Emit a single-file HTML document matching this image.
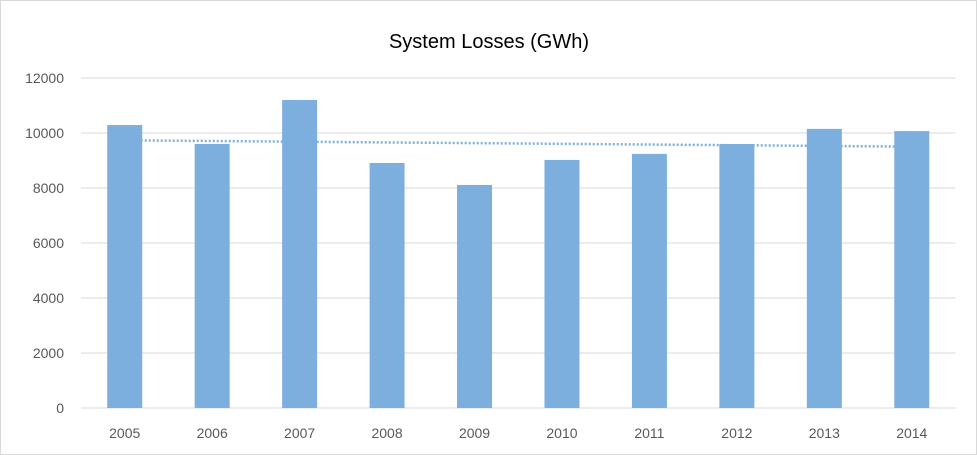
<!DOCTYPE html>
<html><head><meta charset="utf-8"><style>
html,body{margin:0;padding:0;background:#fff;}
#wrap{position:relative;width:977px;height:455px;box-sizing:border-box;border:1px solid #d9d9d9;font-family:"Liberation Sans",sans-serif;overflow:hidden}
</style></head><body>
<div id="wrap">
<svg id="chart" width="977" height="455"></svg>
</div>
<script>
const categories=["2005","2006","2007","2008","2009","2010","2011","2012","2013","2014"];
const values=[10290,9600,11200,8910,8110,9020,9240,9600,10150,10070];
const yTicks=[0,2000,4000,6000,8000,10000,12000];
const NS="http://www.w3.org/2000/svg";
const svg=document.getElementById('chart');
const left=80,right=954.5,y0=407,yTop=77,yMax=12000;
const band=(right-left)/categories.length;
const bw=35;
function y(v){return y0-(v/yMax)*(y0-yTop);}
function xc(i){return left+band*(i+0.5);}
function mk(tag,attrs){const e=document.createElementNS(NS,tag);for(const k in attrs)e.setAttribute(k,attrs[k]);svg.appendChild(e);return e;}
const title=mk('text',{x:488,y:47,'text-anchor':'middle','font-size':20,fill:'#000','font-family':'Liberation Sans, sans-serif'});
title.textContent='System Losses (GWh)';


yTicks.forEach(t=>{
  const l=mk('line',{x1:left,x2:right,y1:y(t),y2:y(t),stroke:'#d9d9d9','stroke-width':1});
  
  
  const tx=mk('text',{x:63,y:y(t)+5,'text-anchor':'end','font-size':14,fill:'#595959'});
  tx.textContent=t;
  
  
});
values.forEach((v,i)=>{
  const r=mk('rect',{x:xc(i)-bw/2,y:y(v),width:bw,height:y0-y(v),fill:'#7cafdd'});
  
  
  const tx=mk('text',{x:xc(i),y:437,'text-anchor':'middle','font-size':14,fill:'#595959'});
  tx.textContent=categories[i];
  
  
});
// linear trendline
const n=values.length;let sx=0,sy=0,sxy=0,sxx=0;
values.forEach((v,i)=>{sx+=i;sy+=v;sxy+=i*v;sxx+=i*i;});
const slope=(n*sxy-sx*sy)/(n*sxx-sx*sx);const icpt=(sy-slope*sx)/n;
const tl=mk('line',{x1:xc(0),y1:y(icpt),x2:xc(n-1),y2:y(icpt+slope*(n-1)),stroke:'#7cafdd','stroke-width':2.5,'stroke-dasharray':'2 2'});


</script>
</body></html>
